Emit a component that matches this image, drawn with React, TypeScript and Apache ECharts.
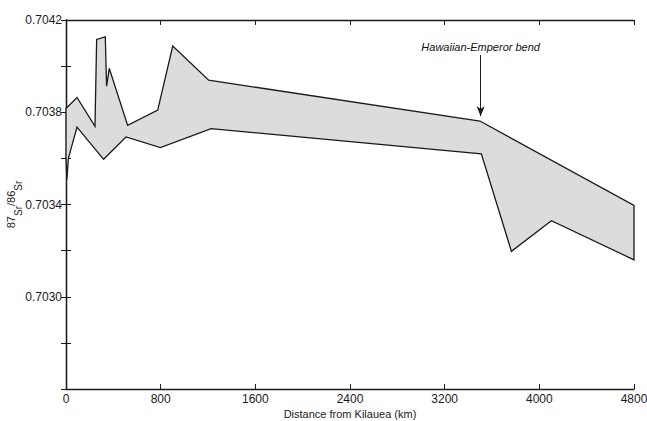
import React, { useEffect, useRef } from "react";
import * as echarts from "echarts";

// Upper boundary of the band (distance km, 87Sr/86Sr)
const upperKm = [0, 93, 245, 259, 332, 343, 366, 521, 775, 902, 1206, 3498, 4800];
const upperSr = [0.703816, 0.703864, 0.703739, 0.704116, 0.704127, 0.703913, 0.70399, 0.703743, 0.703809, 0.704087, 0.703939, 0.703762, 0.703396];

// Lower boundary of the band
const lowerKm = [0, 8, 20, 93, 318, 507, 798, 1226, 3510, 3764, 4102, 4800];
const lowerSr = [0.7036, 0.70351, 0.7036, 0.703736, 0.703596, 0.703693, 0.703647, 0.703729, 0.70362, 0.703197, 0.70333, 0.70316];

const xTicks = [0, 800, 1600, 2400, 3200, 4000, 4800];
const yMin = 0.7026;
const yMax = 0.7042;
const yStep = 0.0002;

const bendKm = 3504;
const bendArrowFrom = 0.704048;
const bendArrowTo = 0.703783;
const bendTextSr = 0.704083;
const bendText = "Hawaiian-Emperor bend";

const FONT = '"Liberation Sans", Arial, Helvetica, sans-serif';
const INK = "#1a1a1a";

export default function App() {
  const ref = useRef<HTMLDivElement>(null);

  useEffect(() => {
    if (!ref.current) return;
    const chart = echarts.init(ref.current, undefined, { renderer: "svg" });

    const upper = upperKm.map((k, i) => [k, upperSr[i]]);
    const lower = lowerKm.map((k, i) => [k, lowerSr[i]]);

    const axisLine = { show: true, lineStyle: { color: INK, width: 1.3 } };
    const tick = { show: true, inside: true, length: 5, lineStyle: { color: INK, width: 1 } };

    const option: any = {
      animation: false,
      backgroundColor: "#ffffff",
      textStyle: { fontFamily: FONT },
      grid: { left: 66, right: 13, top: 20, bottom: 32, containLabel: false, outerBoundsMode: "none" },
      xAxis: [
        {
          type: "value",
          position: "bottom",
          min: xTicks[0],
          max: xTicks[xTicks.length - 1],
          interval: 800,
          axisLine,
          axisTick: tick,
          splitLine: { show: false },
          axisLabel: { color: INK, fontSize: 12, margin: 4, fontFamily: FONT, formatter: (v: number) => String(Math.round(v)) },
          name: "Distance from Kilauea (km)",
          nameLocation: "middle",
          nameGap: 19,
          nameMoveOverlap: false,
          nameTextStyle: { color: INK, fontSize: 11, fontFamily: FONT },
        },
        {
          type: "value",
          position: "top",
          min: xTicks[0],
          max: xTicks[xTicks.length - 1],
          interval: 800,
          axisLine,
          axisTick: tick,
          splitLine: { show: false },
          axisLabel: { show: false },
        },
      ],
      yAxis: [
        {
          type: "value",
          position: "left",
          min: yMin,
          max: yMax,
          interval: yStep,
          axisLine,
          axisTick: tick,
          splitLine: { show: false },
          axisLabel: {
            color: INK,
            fontSize: 12,
            margin: 4,
            fontFamily: FONT,
            formatter: (v: number) => {
              const idx = Math.round((v - yMin) / yStep);
              return idx > 0 && idx % 2 === 0 ? v.toFixed(4) : "";
            },
          },
          name: "{n|87}{s|Sr}{n|/86}{s|Sr}",
          nameLocation: "middle",
          nameGap: 43,
          nameRotate: 90,
          nameMoveOverlap: false,
          nameTextStyle: {
            color: INK,
            fontFamily: FONT,
            rich: {
              n: { fontSize: 11, color: INK, fontFamily: FONT, verticalAlign: "top", lineHeight: 18 },
              s: { fontSize: 10, color: INK, fontFamily: FONT, verticalAlign: "bottom", lineHeight: 18 },
            },
          },
        },
        {
          type: "value",
          position: "right",
          min: yMin,
          max: yMax,
          interval: yStep,
          axisLine,
          axisTick: tick,
          splitLine: { show: false },
          axisLabel: { show: false },
        },
      ],
      series: [
        {
          type: "custom",
          coordinateSystem: "cartesian2d",
          xAxisIndex: 0,
          yAxisIndex: 0,
          silent: true,
          data: [[upperKm[0], upperSr[0]]],
          renderItem: (_params: any, api: any) => {
            const pts = upper.map((p) => api.coord(p)).concat(
              lower
                .slice()
                .reverse()
                .map((p) => api.coord(p))
            );
            return {
              type: "polygon",
              shape: { points: pts },
              style: { fill: "#dcdcdc", stroke: INK, lineWidth: 1.3, lineJoin: "miter" },
            };
          },
        },
        {
          type: "scatter",
          xAxisIndex: 0,
          yAxisIndex: 0,
          silent: true,
          symbolSize: 0,
          itemStyle: { color: "#ffffff", opacity: 1 },
          data: [[bendKm, bendTextSr]],
          label: {
            show: true,
            position: "inside",
            formatter: bendText,
            color: "#111111",
            opacity: 1,
            textBorderWidth: 0,
            fontSize: 11,
            fontStyle: "italic",
            fontFamily: FONT,
          },
          markLine: {
            silent: true,
            symbol: ["none", "arrow"],
            symbolSize: [6, 10],
            label: { show: false },
            lineStyle: { color: INK, width: 1, type: "solid" },
            emphasis: { disabled: true },
            data: [
              [
                { coord: [bendKm, bendArrowFrom] },
                { coord: [bendKm, bendArrowTo] },
              ],
            ],
          },
        },
      ],
    };

    chart.setOption(option);
    return () => chart.dispose();
  }, []);

  return (
    <div
      ref={ref}
      style={{ position: "fixed", left: 0, top: 0, width: 647, height: 421, background: "#fff" }}
    />
  );
}
